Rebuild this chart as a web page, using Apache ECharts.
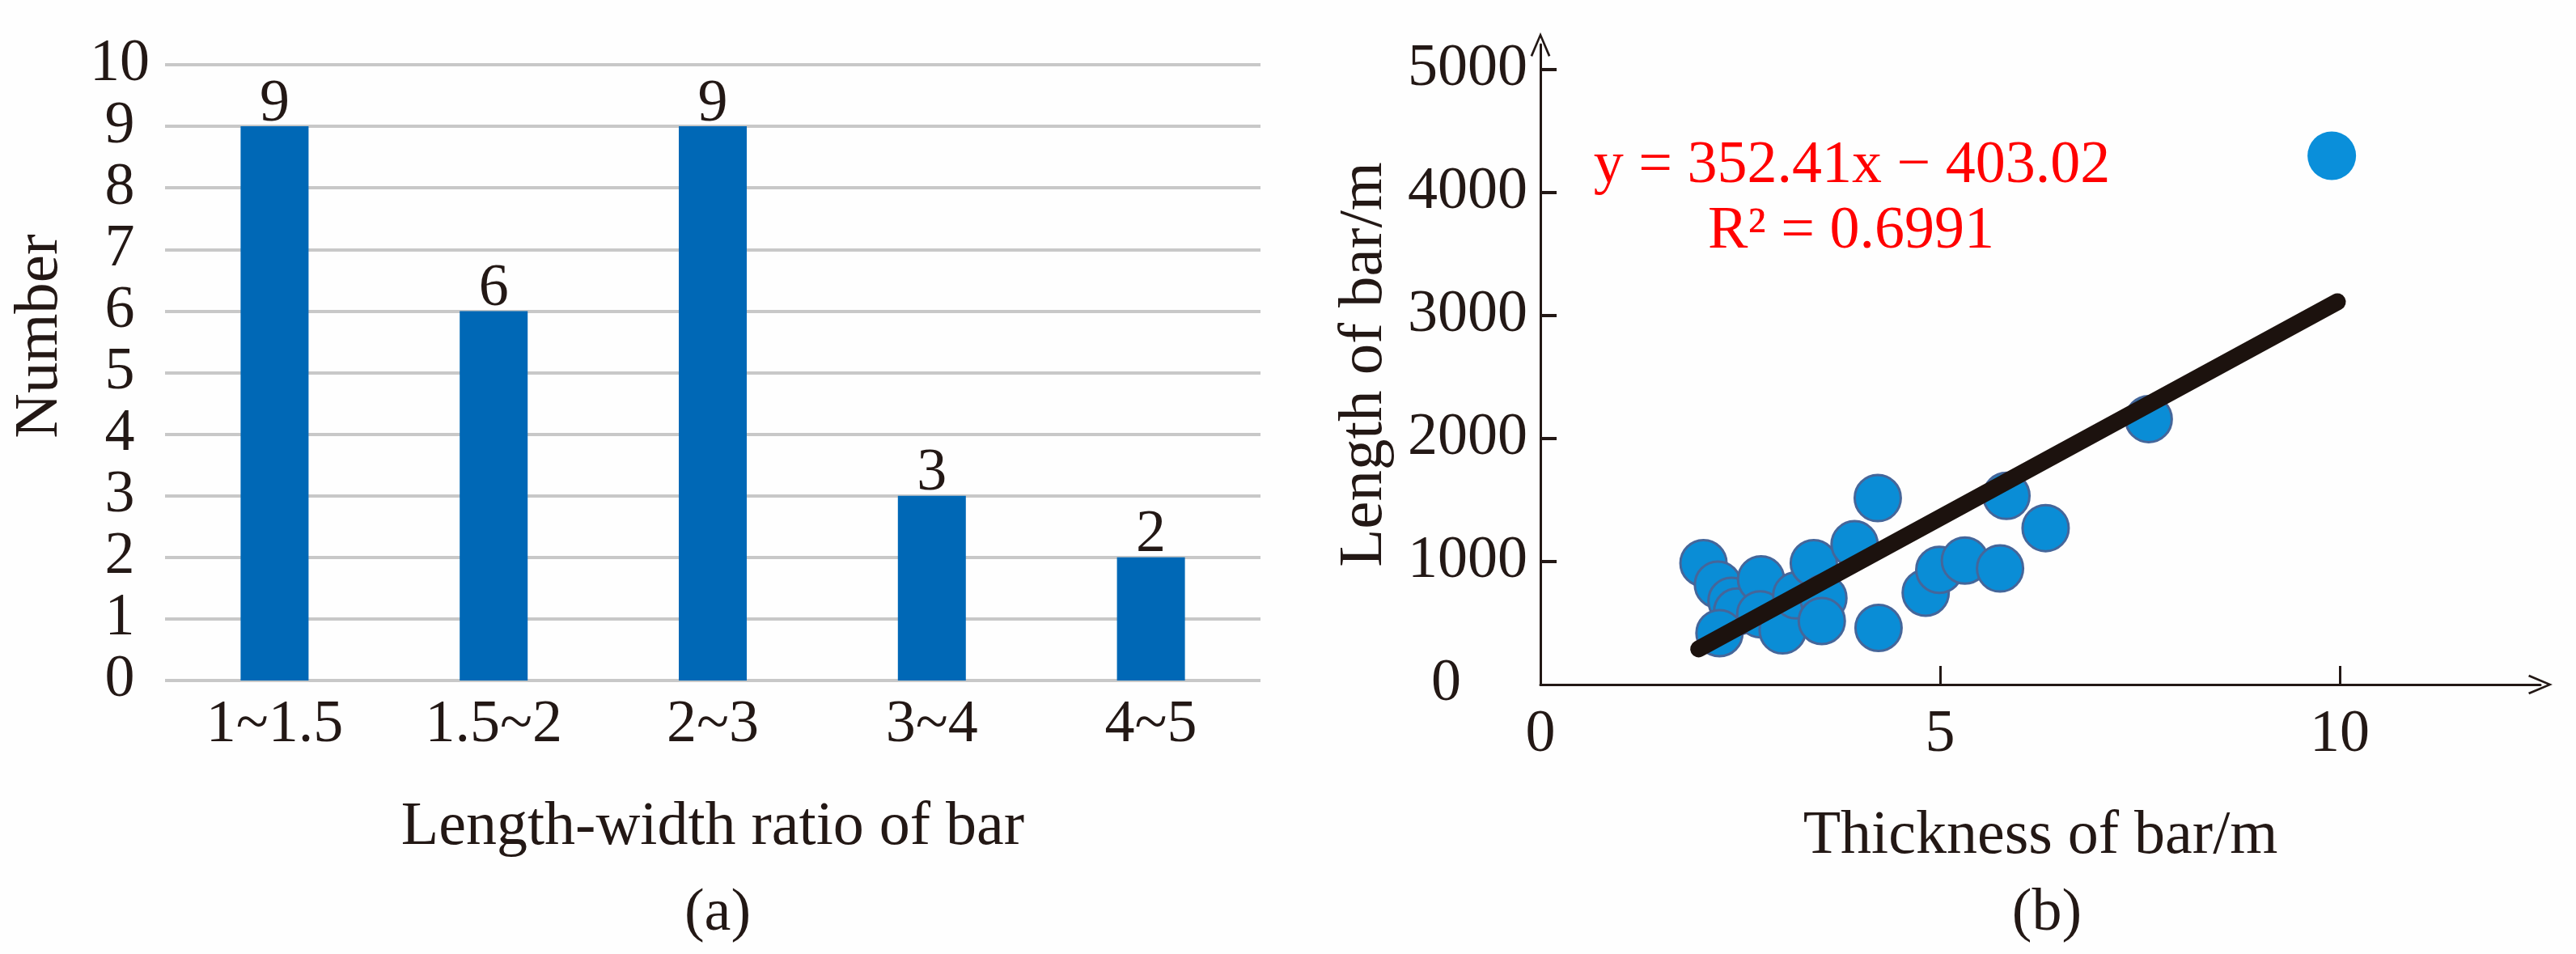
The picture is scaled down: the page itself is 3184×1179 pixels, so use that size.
<!DOCTYPE html>
<html>
<head>
<meta charset="utf-8">
<script src="https://cdn.jsdelivr.net/npm/echarts@6/dist/echarts.min.js"></script>
<style>
html,body{margin:0;padding:0;background:#fefefe;}
#c{width:3184px;height:1179px;}
</style>
</head>
<body>
<div id="c"></div>
<script>
// ---- data (a) ----
const categories = ['1~1.5', '1.5~2', '2~3', '3~4', '4~5'];
const counts = [9, 6, 9, 3, 2];
const countTicks = [0, 1, 2, 3, 4, 5, 6, 7, 8, 9, 10];

// ---- data (b) ----
const thickness = [2.04, 2.22, 2.39, 2.46, 2.76, 2.24, 2.75, 3.03, 3.20, 3.42, 3.54, 3.52, 3.93, 4.22, 4.23, 4.82, 4.99, 5.31, 5.75, 5.83, 6.32, 7.61];
const lengthM   = [986, 812, 680, 593, 855, 418, 571, 440, 724, 986, 702, 516, 1140, 1515, 460, 746, 932, 1008, 943, 1533, 1271, 2157];
const outlierThickness = [9.90];
const outlierLength = [4296];
const fitThickness = [1.98, 9.97];
const fitLength = [290, 3110];
const lengthTicks = [1000, 2000, 3000, 4000, 5000];
const lengthLabels = [0, 1000, 2000, 3000, 4000, 5000];
const thicknessTicks = [5, 10];
const thicknessLabels = [0, 5, 10];

const FONT = '"Liberation Serif", "Times New Roman", serif';
const INK = '#231815';
const chevron = 'path://M0,0 L12,28 L9.6,29.2 L0,6.4 L-9.6,29.2 L-12,28 Z';

const pts = thickness.map((x, i) => [x, lengthM[i]]);
const outPts = outlierThickness.map((x, i) => [x, outlierLength[i]]);
const fit = fitThickness.map((x, i) => [x, fitLength[i]]);

const chart = echarts.init(document.getElementById('c'), null, {renderer: 'canvas'});
chart.setOption({
  backgroundColor: '#fefefe',
  animation: false,
  textStyle: {fontFamily: FONT},
  grid: [
    {left: 204, right: 1626, top: 80, bottom: 338},
    {left: 1904, right: 44, top: 55, bottom: 333}
  ],
  xAxis: [
    {
      type: 'category', gridIndex: 0, data: categories,
      axisLine: {show: false}, axisTick: {show: false},
      axisLabel: {fontFamily: FONT, fontSize: 74, color: INK, margin: 19},
      name: 'Length-width ratio of bar', nameLocation: 'middle', nameGap: 144,
      nameTextStyle: {fontFamily: FONT, fontSize: 76, color: INK}
    },
    {
      type: 'value', gridIndex: 1, min: 0, max: 12.51,
      splitLine: {show: false},
      axisLine: {show: true, onZero: false, symbol: ['none', chevron], symbolSize: [28, 30],
                 lineStyle: {color: INK, width: 3}},
      axisTick: {show: true, inside: true, length: 23, customValues: thicknessTicks,
                 lineStyle: {color: INK, width: 3}},
      axisLabel: {fontFamily: FONT, fontSize: 74, color: INK, margin: 26, customValues: thicknessLabels},
      name: 'Thickness of bar/m', nameLocation: 'middle', nameGap: 150,
      nameTextStyle: {fontFamily: FONT, fontSize: 76, color: INK}
    }
  ],
  yAxis: [
    {
      type: 'value', gridIndex: 0, min: 0, max: 10, interval: 1,
      axisLine: {show: false}, axisTick: {show: false},
      splitLine: {show: true, lineStyle: {color: '#c8c8c8', width: 4}},
      axisLabel: {fontFamily: FONT, fontSize: 74, color: INK, margin: 56, align: 'center'},
      name: 'Number', nameLocation: 'middle', nameGap: 116,
      nameTextStyle: {fontFamily: FONT, fontSize: 77, color: INK, padding: [0, 0, 0, 90]}
    },
    {
      type: 'value', gridIndex: 1, min: 0, max: 5200,
      splitLine: {show: false},
      axisLine: {show: true, onZero: false, symbol: ['none', chevron], symbolSize: [28, 30],
                 lineStyle: {color: INK, width: 3}},
      axisTick: {show: true, inside: true, length: 20, customValues: lengthTicks,
                 lineStyle: {color: INK, width: 4}},
      axisLabel: {
        fontFamily: FONT, fontSize: 74, color: INK, margin: 16, customValues: lengthLabels,
        formatter: v => v === 0 ? '{z|0}' : String(v),
        rich: {z: {fontFamily: FONT, fontSize: 74, color: INK, padding: [0, 82, 0, 0]}}
      },
      name: 'Length of bar/m', nameLocation: 'middle', nameGap: 179,
      nameTextStyle: {fontFamily: FONT, fontSize: 77, color: INK}
    }
  ],
  graphic: [
    {type: 'text', x: 2289, y: 206, z: 100,
     style: {text: 'y = 352.41x \u2212 403.02', font: '74px "Liberation Serif"', fill: '#ff0000',
             textAlign: 'center', textVerticalAlign: 'middle'}},
    {type: 'text', x: 2288, y: 287, z: 100,
     style: {text: 'R\u00b2 = 0.6991', font: '74px "Liberation Serif"', fill: '#ff0000',
             textAlign: 'center', textVerticalAlign: 'middle'}},
    {type: 'text', x: 887, y: 1130,
     style: {text: '(a)', font: '74px "Liberation Serif"', fill: INK,
             textAlign: 'center', textVerticalAlign: 'middle'}},
    {type: 'text', x: 2530, y: 1130,
     style: {text: '(b)', font: '74px "Liberation Serif"', fill: INK,
             textAlign: 'center', textVerticalAlign: 'middle'}}
  ],
  series: [
    {
      type: 'bar', xAxisIndex: 0, yAxisIndex: 0, data: counts, barWidth: 84,
      itemStyle: {color: '#0068b6'},
      label: {show: true, position: 'top', distance: -10, fontFamily: FONT, fontSize: 74, color: INK}
    },
    {
      type: 'scatter', xAxisIndex: 1, yAxisIndex: 1, data: pts, symbolSize: 57,
      itemStyle: {color: '#0a8dd6', borderColor: '#45669a', borderWidth: 3, opacity: 1}, z: 2
    },
    {
      type: 'scatter', xAxisIndex: 1, yAxisIndex: 1, data: outPts, symbolSize: 60,
      itemStyle: {color: '#0a8fda', borderWidth: 0, opacity: 1}, z: 2
    },
    {
      type: 'line', xAxisIndex: 1, yAxisIndex: 1, data: fit, symbol: 'none',
      lineStyle: {color: '#1c120e', width: 21, cap: 'round'}, z: 5
    }
  ]
});
</script>
</body>
</html>
